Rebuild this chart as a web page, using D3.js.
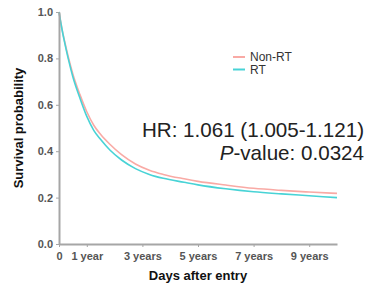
<!DOCTYPE html>
<meta charset="utf-8">
<head>
    <style type="text/css">
        body { margin: 0; background: #fff; }
        .curve { fill: none; stroke-width: 1.6; }
        .axis path, .axis line { stroke: #a6a6a6; }
        .axis path { stroke-width: 2; }
        .axis text { font-family: Arial, "Liberation Sans", sans-serif; font-weight: bold; font-size: 11px; fill: #555; }
        .label { font-family: Arial, "Liberation Sans", sans-serif; font-weight: bold; font-size: 13px; fill: #111; }
        .legend { font-family: Arial, "Liberation Sans", sans-serif; font-size: 12px; fill: #333; }
        .stat { font-family: Arial, "Liberation Sans", sans-serif; font-size: 20.6px; fill: #222; }
    </style>
</head>
<body>
    <script src="https://d3js.org/d3.v7.min.js"></script>
    <script>
        // time in years since entry
        var years = [0, 0.1, 0.2, 0.33, 0.5, 0.75, 1, 1.25, 1.5, 1.83, 2.25, 2.75, 3.25, 3.75, 4.5, 5, 6, 7, 8, 9, 10];
        var nonRT = [1, 0.932, 0.875, 0.808, 0.732, 0.645, 0.57, 0.512, 0.472, 0.43, 0.385, 0.345, 0.318, 0.300, 0.281, 0.270, 0.254, 0.240, 0.231, 0.224, 0.218];
        var rt = [1, 0.93, 0.87, 0.80, 0.72, 0.63, 0.55, 0.49, 0.45, 0.405, 0.362, 0.325, 0.300, 0.283, 0.266, 0.255, 0.238, 0.225, 0.216, 0.208, 0.200];

        var tickYears = [0, 1, 3, 5, 7, 9];
        var tickLabels = ["0", "1 year", "3 years", "5 years", "7 years", "9 years"];
        var seriesNames = ["Non-RT", "RT"];
        var colors = ["#f9aaa5", "#48d3d6"];

        var margin = { top: 12, right: 33, bottom: 45, left: 59 },
            width = 370 - margin.left - margin.right,
            height = 289 - margin.top - margin.bottom;

        var x = d3.scaleLinear().domain([0, 10]).range([0, width]);
        var y = d3.scaleLinear().domain([0, 1]).range([height, 0]);

        var svg = d3.select("body").append("svg")
            .attr("width", 370)
            .attr("height", 289)
            .append("g")
            .attr("transform", "translate(" + margin.left + "," + margin.top + ")");

        // curves
        var line = d3.line()
            .x(function (d) { return x(d[0]); })
            .y(function (d) { return y(d[1]); })
            .curve(d3.curveMonotoneX);

        [nonRT, rt].forEach(function (s, i) {
            svg.append("path")
                .datum(years.map(function (t, j) { return [t, s[j]]; }))
                .attr("class", "curve")
                .attr("stroke", colors[i])
                .attr("d", line);
        });

        // axes
        svg.append("g")
            .attr("class", "axis")
            .attr("transform", "translate(0," + height + ")")
            .call(d3.axisBottom(x).tickValues(tickYears).tickSize(3).tickSizeOuter(0)
                .tickFormat(function (d, i) { return tickLabels[i]; }))
            .selectAll("text").attr("dy", "0.9em");

        svg.append("g")
            .attr("class", "axis")
            .call(d3.axisLeft(y).ticks(5).tickSize(3).tickSizeOuter(0).tickFormat(d3.format(".1f")));

        // axis titles
        svg.append("text")
            .attr("class", "label")
            .attr("text-anchor", "middle")
            .attr("x", width / 2)
            .attr("y", height + 36)
            .text("Days after entry");

        svg.append("text")
            .attr("class", "label")
            .attr("text-anchor", "middle")
            .attr("transform", "translate(-36," + (height / 2) + ") rotate(-90)")
            .text("Survival probability");

        // legend
        var legend = svg.append("g").attr("transform", "translate(174,45)");
        seriesNames.forEach(function (name, i) {
            legend.append("line")
                .attr("x1", 0).attr("x2", 12)
                .attr("y1", i * 12.5).attr("y2", i * 12.5)
                .attr("stroke", colors[i]).attr("stroke-width", 2);
            legend.append("text")
                .attr("class", "legend")
                .attr("x", 17)
                .attr("y", i * 12.5 + 4)
                .text(name);
        });

        // stats
        svg.append("text")
            .attr("class", "stat")
            .attr("text-anchor", "end")
            .attr("x", 305)
            .attr("y", 125)
            .text("HR: 1.061 (1.005-1.121)");

        var p = svg.append("text")
            .attr("class", "stat")
            .attr("text-anchor", "end")
            .attr("x", 305)
            .attr("y", 148);
        p.append("tspan").style("font-style", "italic").text("P");
        p.append("tspan").text("-value: 0.0324");
    </script>
</body>
